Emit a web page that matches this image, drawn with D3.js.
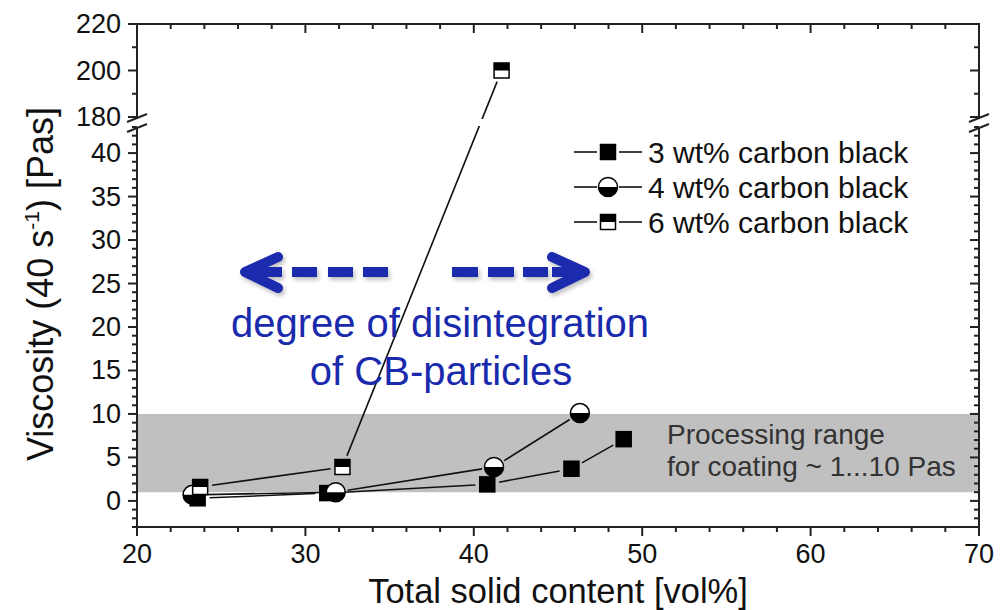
<!DOCTYPE html>
<html>
<head>
<meta charset="utf-8">
<script src="https://cdn.jsdelivr.net/npm/d3@7"></script>
<style>
  body { margin: 0; background: #fff; }
  text { font-family: "Liberation Sans", Arial, sans-serif; }
</style>
</head>
<body>
<div id="chart"></div>
<script>
// values
var solid3 = [23.6, 31.3, 40.8, 45.8, 48.9];
var visc3 = [0.3, 0.9, 1.9, 3.7, 7.1];
var solid4 = [23.3, 31.8, 41.2, 46.3];
var visc4 = [0.7, 1.0, 3.9, 10.1];
var solid6 = [23.75, 32.2, 41.65];
var visc6 = [1.6, 3.9, 200];
var seriesNames = ["3 wt% carbon black", "4 wt% carbon black", "6 wt% carbon black"];
var xTicks = [20, 30, 40, 50, 60, 70];
var yLowTicks = [0, 5, 10, 15, 20, 25, 30, 35, 40];
var yHighTicks = [180, 200, 220];
var bandRange = [1, 10];

var width = 1008, height = 610;
var blue = "#1a2aad";
var axisColor = "#222";

var svg = d3.select("#chart").append("svg")
  .attr("width", width)
  .attr("height", height);

var x = d3.scaleLinear().domain([20, 70]).range([137, 979]);
var yLow = d3.scaleLinear().domain([-3, 43]).range([527, 127]);
var yHigh = d3.scaleLinear().domain([180, 220]).range([117, 24]);
function y(v) { return v > 100 ? yHigh(v) : yLow(v); }

var x0 = x.range()[0], x1 = x.range()[1];
var gapTop = 119, gapBottom = 126;

// grey processing window
svg.append("rect")
  .attr("x", x0).attr("width", x1 - x0)
  .attr("y", yLow(bandRange[1]))
  .attr("height", yLow(bandRange[0]) - yLow(bandRange[1]))
  .style("fill", "#c0c0c0");

// clip so the lines leave a gap at the axis break
var defs = svg.append("defs");
var clip = defs.append("clipPath").attr("id", "breakClip");
clip.append("rect").attr("x", 0).attr("y", 0).attr("width", width).attr("height", gapTop);
clip.append("rect").attr("x", 0).attr("y", gapBottom).attr("width", width).attr("height", height - gapBottom);

var shadow = defs.append("filter").attr("id", "shadow")
  .attr("x", "-20%").attr("y", "-50%").attr("width", "140%").attr("height", "200%");
shadow.append("feDropShadow")
  .attr("dx", 2).attr("dy", 3).attr("stdDeviation", 2)
  .attr("flood-color", "#000").attr("flood-opacity", 0.25);

// ---- axes ----
var ax = svg.append("g").style("stroke", axisColor).style("stroke-width", 2).style("fill", "none");

// bottom / top
ax.append("line").attr("x1", x0 - 1).attr("x2", x1 + 1).attr("y1", 527).attr("y2", 527);
ax.append("line").attr("x1", x0 - 1).attr("x2", x1 + 1).attr("y1", 24).attr("y2", 24);
d3.range(20, 70.1, 2).forEach(function (t) {
  var big = t % 10 === 0;
  var len = big ? 9 : 5;
  ax.append("line").attr("x1", x(t)).attr("x2", x(t)).attr("y1", 527).attr("y2", 527 + len);
  ax.append("line").attr("x1", x(t)).attr("x2", x(t)).attr("y1", 24).attr("y2", 24 + len);
});

// left / right, two segments each (ticks point left on both)
[x0, x1].forEach(function (xa) {
  ax.append("line").attr("x1", xa).attr("x2", xa).attr("y1", 23).attr("y2", gapTop);
  ax.append("line").attr("x1", xa).attr("x2", xa).attr("y1", gapBottom + 2).attr("y2", 528);
  d3.range(180, 220.1, 10).forEach(function (t) {
    var len = t % 20 === 0 ? 9 : 5;
    ax.append("line").attr("x1", xa).attr("x2", xa - len).attr("y1", yHigh(t)).attr("y2", yHigh(t));
  });
  d3.range(-3, 43.1, 1).forEach(function (t) {
    var len = t % 5 === 0 ? 9 : 5;
    ax.append("line").attr("x1", xa).attr("x2", xa - len).attr("y1", yLow(t)).attr("y2", yLow(t));
  });
  // break marks
  [gapTop - 1, gapBottom + 2].forEach(function (yy) {
    ax.append("line")
      .attr("x1", xa - 10).attr("y1", yy + 4)
      .attr("x2", xa + 10).attr("y2", yy - 4);
  });
});

// tick labels
var labels = svg.append("g").style("font-size", "27px").style("fill", "#111");
yHighTicks.concat(yLowTicks).forEach(function (t) {
  labels.append("text")
    .attr("x", 121).attr("y", y(t))
    .attr("text-anchor", "end")
    .attr("dominant-baseline", "central")
    .text(t);
});
xTicks.forEach(function (t) {
  labels.append("text")
    .attr("x", x(t)).attr("y", 563)
    .attr("text-anchor", "middle")
    .text(t);
});

// axis titles
svg.append("text")
  .attr("x", 558).attr("y", 603)
  .attr("text-anchor", "middle")
  .style("font-size", "34.5px").style("fill", "#111")
  .text("Total solid content [vol%]");

var yt = svg.append("text")
  .attr("transform", "translate(53,284) rotate(-90)")
  .attr("text-anchor", "middle")
  .style("font-size", "36px").style("fill", "#111");
yt.append("tspan").text("Viscosity (40 s");
yt.append("tspan").attr("dy", -14).style("font-size", "21px").text("-1");
yt.append("tspan").attr("dy", 14).text(") [Pas]");

// ---- data lines ----
var series = [
  { xs: solid3, ys: visc3, marker: "square" },
  { xs: solid4, ys: visc4, marker: "circle" },
  { xs: solid6, ys: visc6, marker: "halfsquare" }
];

var lineG = svg.append("g").attr("clip-path", "url(#breakClip)")
  .style("stroke", "#111").style("stroke-width", 1.6);
var trim = 12;
series.forEach(function (s) {
  for (var i = 0; i < s.xs.length - 1; i++) {
    var ax1 = x(s.xs[i]), ay1 = y(s.ys[i]);
    var ax2 = x(s.xs[i + 1]), ay2 = y(s.ys[i + 1]);
    var dx = ax2 - ax1, dy = ay2 - ay1;
    var L = Math.sqrt(dx * dx + dy * dy);
    if (L < 2 * trim) continue;
    lineG.append("line")
      .attr("x1", ax1 + dx / L * trim).attr("y1", ay1 + dy / L * trim)
      .attr("x2", ax2 - dx / L * trim).attr("y2", ay2 - dy / L * trim);
  }
});

// markers
function drawMarker(g, type, cx, cy) {
  var h = 7.5, r = 9.5;
  if (type === "square") {
    g.append("rect").attr("x", cx - h).attr("y", cy - h).attr("width", 2 * h).attr("height", 2 * h)
      .style("fill", "#000").style("stroke", "#000").style("stroke-width", 1.5);
  } else if (type === "halfsquare") {
    g.append("rect").attr("x", cx - h).attr("y", cy - h).attr("width", 2 * h).attr("height", 2 * h)
      .style("fill", "#fff").style("stroke", "#000").style("stroke-width", 1.5);
    g.append("rect").attr("x", cx - h).attr("y", cy - h).attr("width", 2 * h).attr("height", h)
      .style("fill", "#000");
  } else {
    g.append("circle").attr("cx", cx).attr("cy", cy).attr("r", r)
      .style("fill", "#fff").style("stroke", "#000").style("stroke-width", 1.5);
    g.append("path")
      .attr("d", "M" + (cx - r) + "," + cy + " A" + r + "," + r + " 0 0,0 " + (cx + r) + "," + cy + " Z")
      .style("fill", "#000");
  }
}

var markG = svg.append("g");
series.forEach(function (s) {
  s.xs.forEach(function (d, i) {
    drawMarker(markG, s.marker, x(d), y(s.ys[i]));
  });
});

// legend
var legendY = [152, 187, 222];
var leg = svg.append("g");
series.forEach(function (s, i) {
  leg.append("line").attr("x1", 574).attr("x2", 597).attr("y1", legendY[i]).attr("y2", legendY[i])
    .style("stroke", "#111").style("stroke-width", 1.6);
  leg.append("line").attr("x1", 619).attr("x2", 642).attr("y1", legendY[i]).attr("y2", legendY[i])
    .style("stroke", "#111").style("stroke-width", 1.6);
  drawMarker(leg, s.marker, 608, legendY[i]);
  leg.append("text")
    .attr("x", 648).attr("y", legendY[i])
    .attr("dominant-baseline", "central")
    .style("font-size", "30px").style("fill", "#111")
    .text(seriesNames[i]);
});

// processing range note
var note = svg.append("text").style("font-size", "28px").style("fill", "#333");
note.append("tspan").attr("x", 667).attr("y", 444).text("Processing range");
note.append("tspan").attr("x", 667).attr("y", 476).text("for coating ~ 1...10 Pas");

// blue arrows and annotation
var arrows = svg.append("g").attr("filter", "url(#shadow)")
  .style("stroke", blue).style("stroke-width", 10).style("fill", "none");
var ay = 272;
arrows.append("path").attr("d", "M278,257 L245,272 L278,288").style("stroke-linecap", "round").style("stroke-linejoin", "round");
arrows.append("line").attr("x1", 248).attr("x2", 282).attr("y1", ay).attr("y2", ay);
[[292, 317], [328, 353], [363, 388], [452, 478], [488, 514], [523, 548]].forEach(function (d) {
  arrows.append("line").attr("x1", d[0]).attr("x2", d[1]).attr("y1", ay).attr("y2", ay);
});
arrows.append("path").attr("d", "M552,257 L585,272 L552,288").style("stroke-linecap", "round").style("stroke-linejoin", "round");
arrows.append("line").attr("x1", 552).attr("x2", 582).attr("y1", ay).attr("y2", ay);

var blueText = svg.append("text").attr("text-anchor", "middle")
  .style("font-size", "40px").style("fill", blue);
blueText.append("tspan").attr("x", 440).attr("y", 337).text("degree of disintegration");
blueText.append("tspan").attr("x", 441).attr("y", 385).text("of CB-particles");
</script>
</body>
</html>
